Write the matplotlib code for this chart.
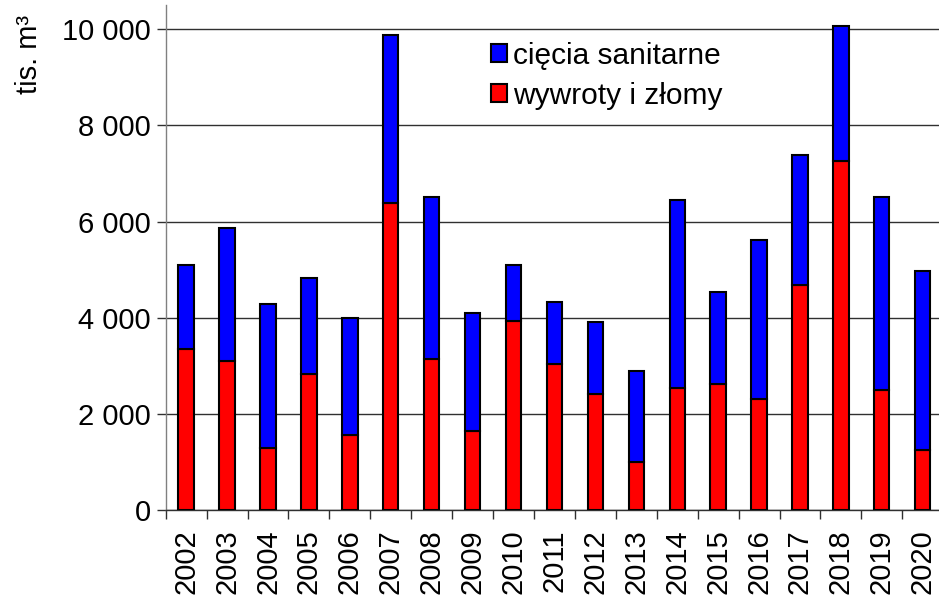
import matplotlib
matplotlib.use("Agg")
import matplotlib.pyplot as plt
import numpy as np
from matplotlib.ticker import FuncFormatter, FixedLocator
from matplotlib.patches import Patch

years = ["2002", "2003", "2004", "2005", "2006", "2007", "2008", "2009", "2010", "2011",
         "2012", "2013", "2014", "2015", "2016", "2017", "2018", "2019", "2020"]
totals = [5100, 5860, 4290, 4830, 4000, 9870, 6510, 4100, 5090, 4320,
          3915, 2900, 6445, 4545, 5620, 7390, 10070, 6520, 4975]
wywroty = [3360, 3110, 1290, 2830, 1560, 6380, 3140, 1650, 3930, 3035,
           2425, 1005, 2550, 2620, 2315, 4690, 7260, 2500, 1255]
ciecia = [t - w for t, w in zip(totals, wywroty)]
series_names = ["cięcia sanitarne", "wywroty i złomy"]
yticks = [0, 2000, 4000, 6000, 8000, 10000]

plt.rcParams['font.family'] = ['Liberation Sans', 'DejaVu Sans']

W, H = 939, 598
fig = plt.figure(figsize=(W / 100, H / 100), dpi=100)
ax = fig.add_axes([165.7 / W, 87.7 / H, (943.2 - 165.7) / W, (593 - 87.7) / H])

x = np.arange(len(years))
bw = 0.375
ax.bar(x, wywroty, width=bw, color="#ff0000", edgecolor="black", linewidth=1.5, zorder=3)
ax.bar(x, ciecia, width=bw, bottom=wywroty, color="#0000ff", edgecolor="black", linewidth=1.5, zorder=3)

ax.set_xlim(-0.5, len(years) - 0.5)
ax.set_ylim(0, 10500)

ax.set_yticks(yticks)
ax.yaxis.set_major_formatter(FuncFormatter(lambda v, p: f"{int(v):,}".replace(",", " ")))
ax.grid(axis="y", color="#303030", linewidth=1.0, zorder=0)
ax.tick_params(axis="y", length=6.5, width=1.0, color="#303030", labelsize=21, pad=4)

ax.set_xticks(x)
ax.set_xticklabels(years, rotation=90, fontsize=21)
ax.tick_params(axis="x", which="major", length=0, pad=14)
ax.xaxis.set_minor_locator(FixedLocator(np.arange(-0.5, len(years), 1.0)))
ax.tick_params(axis="x", which="minor", length=6.5, width=1.0, color="#303030")

for s in ["top", "right"]:
    ax.spines[s].set_visible(False)
ax.spines["left"].set_color("#808080")
ax.spines["left"].set_linewidth(1.0)
ax.spines["bottom"].set_color("#303030")
ax.spines["bottom"].set_linewidth(1.0)

handles = [Patch(facecolor="#0000ff", edgecolor="black", linewidth=1.5),
           Patch(facecolor="#ff0000", edgecolor="black", linewidth=1.5)]
leg = ax.legend(handles, series_names, loc="upper left",
                bbox_to_anchor=(491 / W, 1 - 42 / H), bbox_transform=fig.transFigure,
                frameon=False, fontsize=21.5, handlelength=0.55, handleheight=0.55,
                handletextpad=0.2, labelspacing=0.4, borderpad=0, borderaxespad=0)

fig.text(29 / W, 1 - 54 / H, "tis. m³", rotation=90, ha="center", va="center", fontsize=21)

fig.savefig("out.png", dpi=100)
